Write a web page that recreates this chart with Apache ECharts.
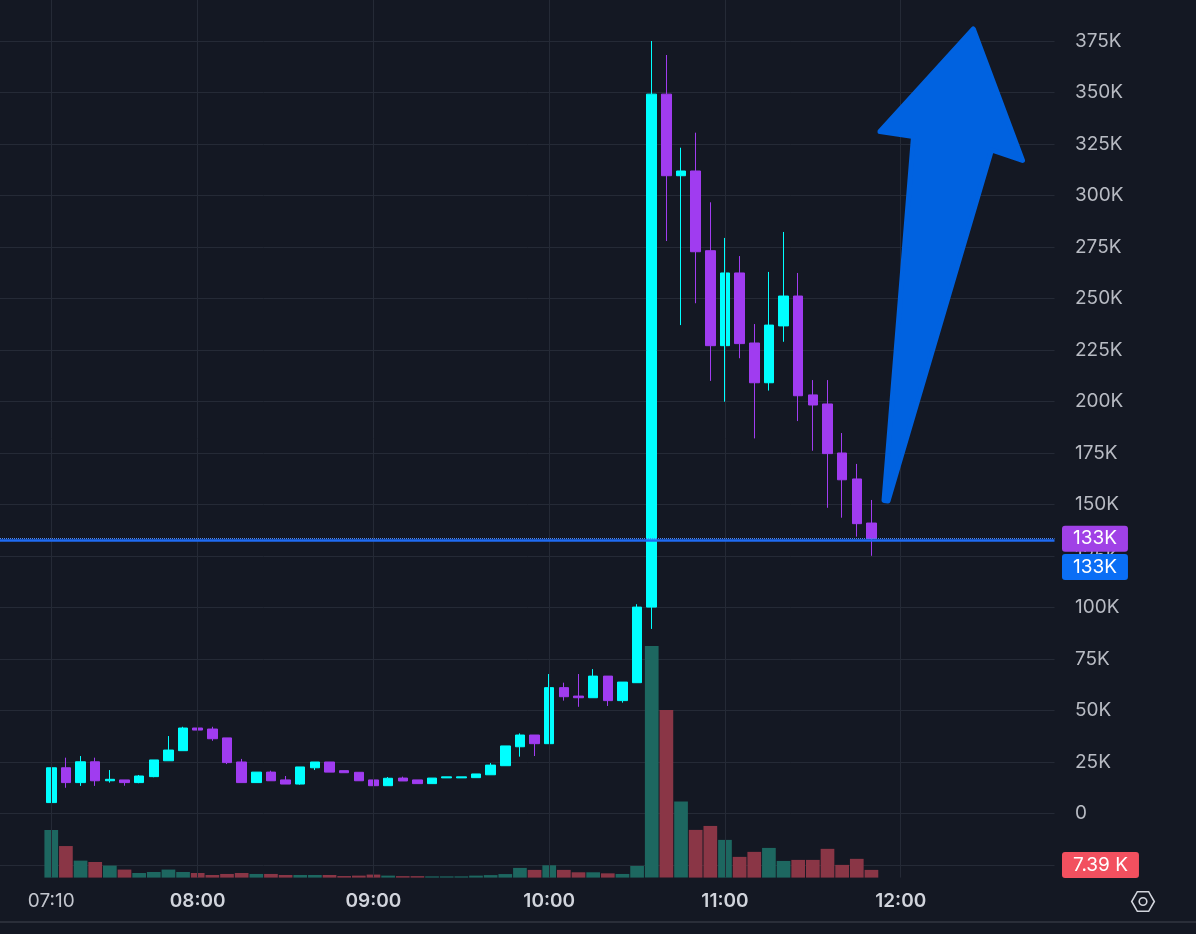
<!DOCTYPE html>
<html><head><meta charset="utf-8">
<script src="https://cdn.jsdelivr.net/npm/echarts@6/dist/echarts.min.js"></script>
<style>html,body{margin:0;padding:0;background:#141823;}#c{width:1196px;height:934px;}</style>
</head><body><div id="c"></div>
<script>
// ---- axis categories (5-minute slots) ----
const categories = ['06:55','07:00','07:05','07:10','07:15','07:20','07:25','07:30','07:35','07:40','07:45','07:50','07:55',
 '08:00','08:05','08:10','08:15','08:20','08:25','08:30','08:35','08:40','08:45','08:50','08:55',
 '09:00','09:05','09:10','09:15','09:20','09:25','09:30','09:35','09:40','09:45','09:50','09:55',
 '10:00','10:05','10:10','10:15','10:20','10:25','10:30','10:35','10:40','10:45','10:50','10:55',
 '11:00','11:05','11:10','11:15','11:20','11:25','11:30','11:35','11:40','11:45','11:50','11:55',
 '12:00','12:05','12:10','12:15','12:20','12:25','12:30','12:35','12:40','12:45','12:50'];
const timeLabels = ['07:10','08:00','09:00','10:00','11:00','12:00'];
const candleTimes = ['07:10','07:15','07:20','07:25','07:30','07:35','07:40','07:45','07:50','07:55',
 '08:00','08:05','08:10','08:15','08:20','08:25','08:30','08:35','08:40','08:45',
 '08:50','08:55','09:00','09:05','09:10','09:15','09:20','09:25','09:30','09:35',
 '09:40','09:45','09:50','09:55','10:00','10:05','10:10','10:15','10:20','10:25',
 '10:30','10:35','10:40','10:45','10:50','10:55','11:00','11:05','11:10','11:15',
 '11:20','11:25','11:30','11:35','11:40','11:45','11:50'];
// ---- prices in thousands ----
const opens = [5.2,22.1,14.9,25.0,15.8,16.2,14.9,17.8,25.5,30.4, 41.4,40.9,36.6,24.9,14.9,20.0,16.2,14.2,22.1,24.9,
 20.7,19.9,16.2,13.4,17.1,16.2,14.4,17.2,17.2,17.3, 18.7,23.1,32.3,38.0,33.8,61.0,56.9,56.1,66.6,54.7,
 63.4,100.1,349.1,309.5,311.8,273.1,227.0,262.3,228.3,209.0, 236.6,251.1,203.1,198.7,174.9,162.3,140.9];
const closes = [22.1,14.9,25.0,15.8,16.5,14.9,18.1,25.9,30.7,41.4, 40.4,36.2,24.6,14.9,20.0,15.8,14.2,22.5,24.9,20.0,
 19.7,15.8,13.4,17.0,15.7,14.4,17.1,17.7,17.7,19.1, 23.4,32.7,38.0,33.8,61.0,56.6,56.1,66.6,54.7,63.7,
 100.1,349.1,309.5,311.8,272.6,227.0,262.3,228.0,209.0,237.0, 251.1,202.7,198.2,174.6,161.9,140.6,133.3];
const lows = [5.2,12.4,13.3,13.3,14.9,13.4,14.6,17.5,25.5,30.4, 39.6,35.2,23.9,14.9,14.9,15.8,14.2,13.9,21.0,20.0,
 19.7,15.8,12.6,13.4,15.7,14.4,14.4,17.2,17.2,17.3, 18.7,23.1,27.5,27.8,33.8,54.7,51.7,56.1,52.1,53.7,
 63.4,89.5,277.8,237.0,247.6,209.9,199.8,220.9,182.0,205.2, 228.9,190.4,176.0,148.3,143.5,134.3,125.0];
const highs = [28.3,27.0,27.8,27.0,21.0,16.2,18.6,25.9,37.5,42.0, 47.4,42.0,36.6,26.4,20.0,20.7,18.1,22.5,24.9,24.9,
 20.7,19.9,16.2,17.6,17.8,16.2,17.1,17.7,17.7,19.1, 24.4,32.7,38.8,38.0,67.6,63.4,67.6,70.0,66.6,63.7,
 101.5,374.9,368.1,323.1,330.4,296.6,279.3,270.5,237.5,262.8, 282.2,262.3,210.3,210.3,184.6,169.6,152.1];
// ---- volume in thousands ----
const volumes = [45.7,30.3,16.3,15.0,11.5,7.7,4.4,5.4,7.7,5.4, 4.4,2.5,3.5,4.4,3.5,3.5,2.5,2.5,2.5,2.5,
 1.5,1.9,2.9,1.9,1.4,1.4,1.2,1.2,1.2,1.9, 2.4,3.4,9.3,7.4,11.8,7.4,5.1,5.1,4.1,3.5,
 11.2,222.3,160.9,73.0,45.8,49.6,36.2,19.9,24.7,28.5, 16.0,17.0,17.0,27.6,12.2,18.0,7.39];
const priceTicks = {min: -25, max: 375, step: 25};
const lineLevel = 132.7;
const lastClose = closes[closes.length - 1];
const lastVolume = volumes[volumes.length - 1];

const UP = '#00ffff', DOWN = '#a03cf0';
const VUP = '#1d6760', VDOWN = '#8a3646';
const GRID = '#252a36';
const FONT = 'Inter, "Noto Sans", sans-serif';

const candleData = categories.map(c => {
  const i = candleTimes.indexOf(c);
  return i < 0 ? ['-','-','-','-'] : [opens[i], closes[i], lows[i], highs[i]];
});
const volData = categories.map(c => {
  const i = candleTimes.indexOf(c);
  if (i < 0) return '-';
  return {value: volumes[i], itemStyle: {color: closes[i] >= opens[i] ? VUP : VDOWN}};
});

const tagLabel = (bg, text, offY) => ({
  show: true, position: 'end', distance: 7.5, formatter: text,
  color: '#ffffff', fontSize: 19, fontFamily: FONT, backgroundColor: bg,
  padding: [4, 11, 3, 11], borderRadius: 3, offset: [0, offY]
});

const chart = echarts.init(document.getElementById('c'), null, {renderer: 'canvas'});
chart.setOption({
  backgroundColor: '#141823',
  animation: false,
  grid: [
    {left: -1.7, right: 141.5, top: 40.8, bottom: 69.2},
    {left: -1.7, right: 141.5, top: 0, bottom: 56.4}
  ],
  xAxis: [
    {type: 'category', gridIndex: 0, data: categories, boundaryGap: true, show: false},
    {type: 'category', gridIndex: 1, data: categories, boundaryGap: true,
     axisLine: {show: false}, axisTick: {show: false}, splitLine: {show: false},
     axisLabel: {
       interval: (idx, v) => timeLabels.indexOf(v) >= 0,
       margin: 14,
       formatter: v => (v === timeLabels[0] ? '{n|' + v + '}' : '{b|' + v + '}'),
       rich: {
         n: {fontSize: 19, fontFamily: FONT, color: '#c3c6ce', fontWeight: 'normal'},
         b: {fontSize: 19, fontFamily: FONT, color: '#d1d4dc', fontWeight: 600}
       }
     }}
  ],
  yAxis: [
    {type: 'value', gridIndex: 0, position: 'right', min: priceTicks.min, max: priceTicks.max, interval: priceTicks.step,
     axisLine: {show: false}, axisTick: {show: false},
     splitLine: {show: true, lineStyle: {color: GRID, width: 1}},
     axisLabel: {margin: 20.5, align: 'left', color: '#b8bbc3', fontSize: 19, fontFamily: FONT,
       formatter: v => (v === 0 ? '0' : (v < 0 ? '\u2212' + (-v) + 'K' : v + 'K'))}},
    {type: 'value', gridIndex: 1, min: 0, max: 842.5, show: false, splitLine: {show: false}}
  ],
  series: [
    {type: 'line', xAxisIndex: 1, yAxisIndex: 1, z: 1, data: categories.map(() => '-'), silent: true,
     markLine: {symbol: ['none','none'], silent: true, animation: false, label: {show: false},
       lineStyle: {color: GRID, width: 1, type: 'solid'},
       data: timeLabels.map(t => ({xAxis: t}))}},
    {type: 'bar', name: 'vol', xAxisIndex: 1, yAxisIndex: 1, z: 2, barWidth: 13.7, data: volData,
     markLine: {symbol: ['none','none'], silent: true, animation: false,
       data: [{yAxis: lastVolume, lineStyle: {color: 'rgba(0,0,0,0)', width: 1, type: 'solid'},
         label: tagLabel('#f2505f', lastVolume.toFixed(2) + ' K', -5)}]}},
    {type: 'candlestick', name: 'price', xAxisIndex: 0, yAxisIndex: 0, z: 3, barWidth: 10, data: candleData,
     itemStyle: {color: UP, color0: DOWN, borderColor: UP, borderColor0: DOWN, borderWidth: 1},
     markLine: {symbol: ['none','none'], silent: true, animation: false,
       data: [
         {yAxis: lastClose, lineStyle: {color: '#4a86f7', width: 1, type: 'dotted'},
          label: tagLabel('#a041e6', Math.round(lastClose) + 'K', 0)},
         {yAxis: lineLevel, lineStyle: {color: '#1f6bf2', width: 2.5, type: 'solid'},
          label: tagLabel('#0a6ef5', Math.round(lineLevel) + 'K', 27)}
       ]}}
  ],
  graphic: [
    {type: 'line', z: 50, shape: {x1: 0, y1: 922, x2: 1196, y2: 922}, style: {stroke: '#2a2e39', lineWidth: 2}},
    {type: 'polygon', z: 100, shape: {points: [[973.3,29],[1022.5,160.5],[991.5,150],[888,501],[884,500.5],[913.5,136.5],[880,131.5]]},
     style: {fill: '#0062e0', stroke: '#0062e0', lineWidth: 5, lineJoin: 'round'}},
    {type: 'polygon', z: 100, shape: {points: [[1154.3,901.5],[1148.65,911.3],[1137.35,911.3],[1131.7,901.5],[1137.35,891.7],[1148.65,891.7]]},
     style: {fill: 'none', stroke: '#d1d4dc', lineWidth: 1.6}},
    {type: 'circle', z: 100, shape: {cx: 1143, cy: 901.5, r: 3.8}, style: {fill: 'none', stroke: '#d1d4dc', lineWidth: 1.6}}
  ]
});
</script></body></html>
